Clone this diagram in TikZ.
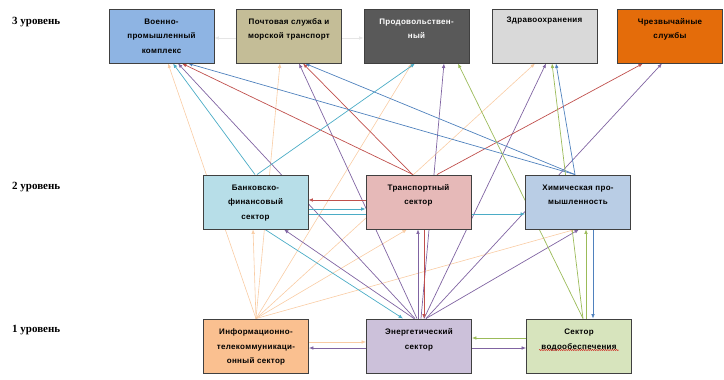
\documentclass[tikz,border=0pt]{standalone}
\usepackage{fontspec}
\setmainfont{Liberation Serif}
\newfontfamily\boxfont[LetterSpace=4]{Liberation Sans}
\usetikzlibrary{arrows.meta,decorations.pathmorphing,calc}
\pgfdeclarelayer{bg}
\pgfsetlayers{bg,main}
\definecolor{cA}{HTML}{8EB4E3}
\definecolor{cB}{HTML}{C4BD97}
\definecolor{cC}{HTML}{595959}
\definecolor{cD}{HTML}{D9D9D9}
\definecolor{cE}{HTML}{E46C0A}
\definecolor{cBk}{HTML}{B7DEE8}
\definecolor{cT}{HTML}{E6B9B8}
\definecolor{cCh}{HTML}{B9CDE5}
\definecolor{cI}{HTML}{FAC090}
\definecolor{cEn}{HTML}{CCC1DA}
\definecolor{cW}{HTML}{D7E4BD}
\definecolor{lpeach}{HTML}{F9CCA4}
\definecolor{lpurple}{HTML}{8064A2}
\definecolor{lred}{HTML}{C0504D}
\definecolor{lcyan}{HTML}{4BACC6}
\definecolor{lblue}{HTML}{4F81BD}
\definecolor{lgreen}{HTML}{9BBB59}
\newcommand{\firststrut}{\rule{0pt}{7pt}}
\begin{document}
\begin{tikzpicture}[x=1pt,y=-1pt,
  box/.style={draw=black!75, line width=0.9pt, minimum width=105pt, minimum height=54pt, inner sep=0pt},
  btxt/.style={anchor=north, inner sep=0pt, align=center, font=\boxfont\bfseries\fontsize{8}{14.5}\selectfont},
  lvl/.style={anchor=west, inner sep=0pt, font=\bfseries\fontsize{11}{12}\selectfont},
  con/.style={line width=0.7pt, -{Latex[length=4.5pt,width=3.6pt]}},
  cpeach/.style={con, draw=lpeach, line width=0.6pt},
  cpurple/.style={con, draw=lpurple},
  cred/.style={con, draw=lred},
  ccyan/.style={con, draw=lcyan},
  cblue/.style={con, draw=lblue},
  cgreen/.style={con, draw=lgreen},
  cgray/.style={con, draw=black!10}]
\useasboundingbox (0,0) rectangle (724,380);

% level labels
\node[lvl] (L3) at (12,22.5) {3 уровень};
\node[lvl] (L2) at (12,187) {2 уровень};
\node[lvl] (L1) at (12,330) {1 уровень};

% boxes
\node[box, fill=cA]  (A)  at (161.5,36) {};
\node[box, fill=cB]  (B)  at (289,36) {};
\node[box, fill=cC]  (C)  at (416.5,36) {};
\node[box, fill=cD]  (D)  at (544.5,36) {};
\node[box, fill=cE]  (E)  at (670,36) {};
\node[box, fill=cBk] (Bk) at (255.5,202) {};
\node[box, fill=cT]  (T)  at (418.5,202) {};
\node[box, fill=cCh] (Ch) at (578,202) {};
\node[box, fill=cI]  (I)  at (256,346) {};
\node[box, fill=cEn] (En) at (419,346) {};
\node[box, fill=cW]  (W)  at (579,346) {};

% box texts
\node[btxt] (At)  at ([yshift=-8.4pt]A.north)  {\firststrut Военно-\\промышленный\\комплекс};
\node[btxt] (Bt)  at ([yshift=-8.4pt]B.north)  {\firststrut Почтовая служба и\\морской транспорт};
\node[btxt, text=white] (Ct) at ([yshift=-8.4pt]C.north) {\firststrut Продовольствен-\\ный};
\node[btxt] (Dt)  at ([yshift=-7pt]D.north)  {\firststrut Здравоохранения};
\node[btxt] (Et)  at ([yshift=-8.4pt]E.north)  {\firststrut Чрезвычайные\\службы};
\node[btxt] (Bkt) at ([yshift=-8.4pt]Bk.north) {\firststrut Банковско-\\финансовый\\сектор};
\node[btxt] (Tt)  at ([yshift=-8.4pt]T.north)  {\firststrut Транспортный\\сектор};
\node[btxt] (Cht) at ([yshift=-8.4pt]Ch.north) {\firststrut Химическая про-\\мышленность};
\node[btxt] (It)  at ([yshift=-9pt]I.north)  {\firststrut Информационно-\\телекоммуникаци-\\онный сектор};
\node[btxt] (Ent) at ([yshift=-9pt]En.north) {\firststrut Энергетический\\сектор};
\node[btxt] (Wt)  at ([yshift=-9pt]W.north)  {\firststrut Сектор\\водообеспечения};
\draw[red!80!black, line width=0.4pt, decorate, decoration={snake, segment length=2.2pt, amplitude=0.5pt}]
  ([shift={(-40pt,-4pt)}]W.center) -- ([shift={(40pt,-4pt)}]W.center);

\begin{pgfonlayer}{bg}
% peach: information-telecom
\draw[cpeach] (I.north) -- ([xshift=6.5pt]A.south);
\draw[cpeach] (I.north) -- ([xshift=-9pt]B.south);
\draw[cpeach] (I.north) -- ([xshift=-4.5pt]C.south);
\draw[cpeach] (I.north) -- ([xshift=-9.5pt]D.south);
\draw[cpeach] (I.north) -- ([xshift=-2.5pt]Bk.south);
\draw[cpeach] (I.north) -- ([xshift=-11.5pt]T.south);
\draw[cpeach] (I.north) -- ([xshift=-3pt]Ch.south);
\draw[cpeach] ([yshift=4pt]I.east) -- ([yshift=4pt]En.west);
% purple: energy
\draw[cpurple] ([xshift=-4pt]En.north) -- ([xshift=16.5pt]A.south);
\draw[cpurple] ([xshift=-2pt]En.north) -- ([xshift=10pt]B.south);
\draw[cpurple] ([xshift=2pt]En.north) -- ([xshift=27.5pt]C.south);
\draw[cpurple] ([xshift=5pt]En.north) -- ([xshift=1.5pt]D.south);
\draw[cpurple] ([xshift=7pt]En.north) -- ([xshift=-8pt]E.south);
\draw[cpurple] ([xshift=-5pt]En.north) -- ([xshift=28.5pt]Bk.south);
\draw[cpurple] ([xshift=-1pt]En.north) -- ([xshift=-0.5pt]T.south);
\draw[cpurple] ([xshift=7pt]En.north) -- ([xshift=1pt]Ch.south);
\draw[cpurple] ([yshift=-2pt]En.west) -- ([yshift=-2pt]I.east);
\draw[cpurple] ([yshift=-2pt]En.east) -- ([yshift=-2pt]W.west);
% red: transport
\draw[cred] ([xshift=-5.5pt]T.north) -- ([xshift=20.5pt]A.south);
\draw[cred] ([xshift=-6pt]T.north) -- ([xshift=14pt]B.south);
\draw[cred] ([xshift=18.5pt]T.north) -- ([xshift=-27pt]E.south);
\draw[cred] ([yshift=2pt]T.west) -- ([yshift=2pt]Bk.east);
\draw[cred] ([xshift=5.5pt]T.south) -- ([xshift=5pt]En.north);
% cyan: banking
\draw[ccyan] ([xshift=-0.5pt]Bk.north) -- ([xshift=11.5pt]A.south);
\draw[ccyan] ([xshift=1.5pt]Bk.north) -- ([xshift=-1.5pt]C.south);
\draw[ccyan] ([yshift=-7pt]Bk.east) -- ([yshift=-7pt]T.west);
\draw[ccyan] ([yshift=-12pt]Bk.east) -- ([yshift=-12pt]Ch.west);
\draw[ccyan] ([xshift=9.5pt]Bk.south) -- ([xshift=-16pt]En.north);
% blue: chemical
\draw[cblue] ([xshift=-3pt]Ch.north) -- ([xshift=26.5pt]A.south);
\draw[cblue] ([xshift=-3pt]Ch.north) -- ([xshift=16pt]B.south);
\draw[cblue] ([xshift=-3pt]Ch.north) -- ([xshift=11.5pt]D.south);
\draw[cblue] ([xshift=15pt]Ch.south) -- ([xshift=14pt]W.north);
% green: water
\draw[cgreen] ([xshift=4pt]W.north) -- ([xshift=41.5pt]C.south);
\draw[cgreen] ([xshift=4pt]W.north) -- ([xshift=7.5pt]D.south);
\draw[cgreen] ([xshift=7pt]W.north) -- ([xshift=8pt]Ch.south);
\draw[cgreen] ([yshift=8pt]W.west) -- ([yshift=8pt]En.east);
% faint gray
\draw[cgray] ([yshift=-2pt]B.west) -- ([yshift=-2pt]A.east);
\draw[cgray] ([yshift=-2pt]B.east) -- ([yshift=-2pt]C.west);
\end{pgfonlayer}
\end{tikzpicture}
\end{document}
